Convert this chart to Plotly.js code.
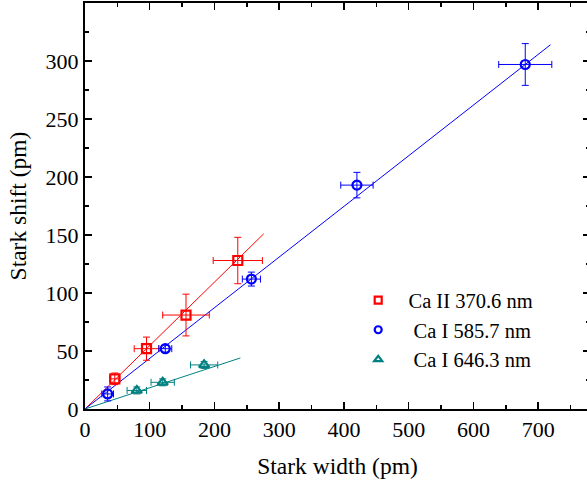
<!DOCTYPE html>
<html>
<head>
<meta charset="utf-8">
<script src="https://cdn.plot.ly/plotly-3.0.1.min.js"></script>
<style>html,body{margin:0;padding:0;overflow:hidden;background:#fff;width:587px;height:485px}</style>
</head>
<body>
<div id="chart" style="width:590px;height:485px"></div>
<script>
// Ca II 370.6 nm
var caII_x = [46, 95, 156, 236];
var caII_y = [26, 52, 81, 128];
var caII_xe = [8, 19, 36, 38];
var caII_ye = [5, 10, 18, 20];
var caII_fitX = [0, 276];
var caII_fitY = [0, 151];

// Ca I 585.7 nm
var caI5_x = [35, 124, 257, 420, 680];
var caI5_y = [13, 52, 112, 193, 297];
var caI5_xe = [9, 10, 14, 25, 41];
var caI5_ye = [6, 3, 6, 11, 18];
var caI5_fitX = [0, 719];
var caI5_fitY = [0, 314];

// Ca I 646.3 nm
var caI6_x = [80, 120, 184];
var caI6_y = [16, 23, 38];
var caI6_xe = [15, 18, 21];
var caI6_ye = [3, 3, 3];
var caI6_fitX = [0, 240];
var caI6_fitY = [0, 44];

var names = ['\u00a0\u00a0Ca II 370.6 nm', '\u00a0\u00a0\u00a0Ca I 585.7 nm', '\u00a0\u00a0\u00a0Ca I 646.3 nm'];
var red = '#ff0000', blue = '#0000ff', teal = '#008080';

function pts(x, y, xe, ye, color, symbol) {
  return {
    type: 'scatter', mode: 'markers', x: x, y: y, showlegend: false,
    marker: {symbol: symbol, size: 9, color: color, line: {color: color, width: 2.2}},
    error_x: {type: 'data', array: xe, visible: true, color: color, thickness: 1, width: 3.5},
    error_y: {type: 'data', array: ye, visible: true, color: color, thickness: 1, width: 3.5}
  };
}
function key(color, symbol, name) {
  return {type: 'scatter', mode: 'markers', x: [null], y: [null], name: name, showlegend: true,
    marker: {symbol: symbol, size: 7, color: color, line: {color: color, width: 2.2}}};
}
function fit(x, y, color) {
  return {type: 'scatter', mode: 'lines', x: x, y: y, showlegend: false, hoverinfo: 'skip',
    line: {color: color, width: 1}};
}

var data = [
  fit(caII_fitX, caII_fitY, red),
  fit(caI5_fitX, caI5_fitY, blue),
  fit(caI6_fitX, caI6_fitY, teal),
  pts(caII_x, caII_y, caII_xe, caII_ye, red, 'square-open'),
  pts(caI5_x, caI5_y, caI5_xe, caI5_ye, blue, 'circle-open'),
  pts(caI6_x, caI6_y, caI6_xe, caI6_ye, teal, 'triangle-up-open'),
  key(red, 'square-open', names[0]),
  key(blue, 'circle-open', names[1]),
  key(teal, 'triangle-up-open', names[2])
];

var fam = 'Liberation Serif';
var font = {family: fam, color: '#000', size: 22};
var axisCommon = {
  showgrid: false, zeroline: false, showline: true, linecolor: '#000', linewidth: 2,
  mirror: 'allticks', ticks: 'inside', ticklen: 7, tickwidth: 1.5, tickcolor: '#000',
  tickfont: font
};

var layout = {
  width: 590, height: 485,
  margin: {l: 85, r: 0, t: 3, b: 76},
  paper_bgcolor: '#fff', plot_bgcolor: '#fff',
  font: font,
  showlegend: true,
  legend: {x: 0.541, y: 0.317, xanchor: 'left', yanchor: 'top', bgcolor: 'rgba(0,0,0,0)',
    font: {family: fam, size: 20.5, color: '#000'}, itemsizing: 'trace'},
  xaxis: Object.assign({}, axisCommon, {
    range: [0, 780], dtick: 100, tick0: 0,
    minor: {dtick: 50, ticks: 'inside', ticklen: 4, tickwidth: 1.5, tickcolor: '#000'},
    title: {text: 'Stark width (pm)', font: {family: fam, size: 23.5, color: '#000'}, standoff: 16}
  }),
  yaxis: Object.assign({}, axisCommon, {
    range: [0, 350], dtick: 50, tick0: 0,
    minor: {dtick: 25, ticks: 'inside', ticklen: 4, tickwidth: 1.5, tickcolor: '#000'},
    title: {text: 'Stark shift (pm)', font: {family: fam, size: 23.5, color: '#000'}, standoff: 12}
  })
};

Plotly.newPlot('chart', data, layout, {staticPlot: true, displayModeBar: false});
</script>
</body>
</html>
